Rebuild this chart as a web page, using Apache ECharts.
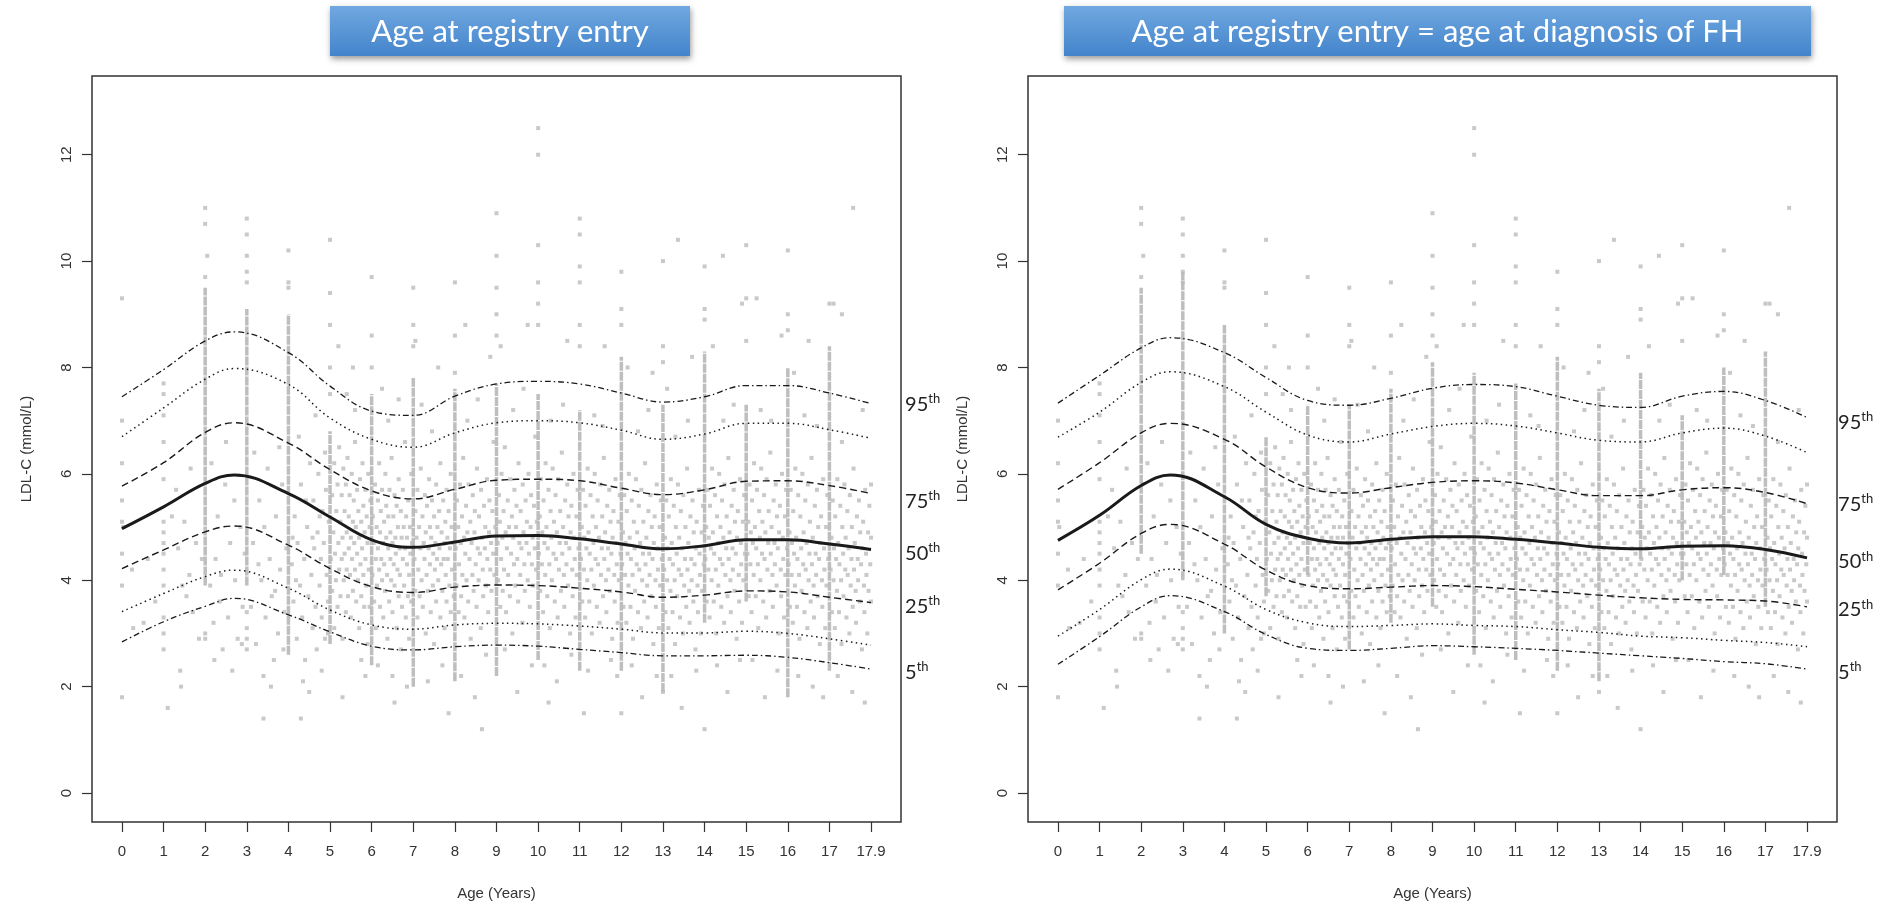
<!DOCTYPE html>
<html>
<head>
<meta charset="utf-8">
<title>LDL-C percentiles by age</title>
<script src="https://cdn.jsdelivr.net/npm/echarts@6.0.0/dist/echarts.min.js"></script>
<style>
  html, body { margin: 0; padding: 0; background: #fff; }
  #main { width: 1893px; height: 910px; }
</style>
</head>
<body>
<div id="main"></div>
<script>
// ages of the percentile curves (2.7 is the peak), 18 sits under the "17.9" tick
const ages = [0, 1, 2, 2.7, 4, 5, 6, 7, 8, 9, 10, 11, 12, 13, 14, 15, 16, 17, 18];
const xTicks = [0, 1, 2, 3, 4, 5, 6, 7, 8, 9, 10, 11, 12, 13, 14, 15, 16, 17, 18];
const xTickLabels = ['0', '1', '2', '3', '4', '5', '6', '7', '8', '9', '10', '11', '12', '13', '14', '15', '16', '17', '17.9'];
const yTicks = [0, 2, 4, 6, 8, 10, 12];

const leftTitle = 'Age at registry entry';
const rightTitle = 'Age at registry entry = age at diagnosis of FH';

// left panel percentiles (age at registry entry)
const leftP95 = [7.45, 7.96, 8.50, 8.67, 8.28, 7.65, 7.18, 7.10, 7.46, 7.69, 7.74, 7.69, 7.52, 7.35, 7.45, 7.66, 7.66, 7.52, 7.32];
const leftP90 = [6.70, 7.24, 7.78, 7.98, 7.68, 7.05, 6.65, 6.50, 6.77, 6.96, 7.00, 6.96, 6.82, 6.65, 6.75, 6.95, 6.95, 6.83, 6.67];
const leftP75 = [5.77, 6.21, 6.78, 6.96, 6.58, 6.08, 5.68, 5.53, 5.71, 5.88, 5.90, 5.87, 5.73, 5.61, 5.70, 5.86, 5.87, 5.78, 5.63];
const leftP50 = [4.97, 5.38, 5.82, 5.98, 5.63, 5.19, 4.76, 4.62, 4.72, 4.83, 4.84, 4.78, 4.68, 4.59, 4.65, 4.76, 4.76, 4.68, 4.58];
const leftP25 = [4.22, 4.57, 4.91, 5.02, 4.66, 4.22, 3.88, 3.77, 3.87, 3.91, 3.90, 3.85, 3.78, 3.68, 3.72, 3.80, 3.78, 3.68, 3.58];
const leftP10 = [3.41, 3.75, 4.07, 4.19, 3.85, 3.44, 3.16, 3.08, 3.16, 3.19, 3.18, 3.14, 3.08, 3.01, 3.01, 3.04, 3.00, 2.90, 2.78];
const leftP5 = [2.84, 3.22, 3.51, 3.66, 3.35, 3.03, 2.76, 2.69, 2.75, 2.78, 2.76, 2.70, 2.64, 2.58, 2.58, 2.59, 2.55, 2.45, 2.33];

// right panel percentiles (entry = diagnosis)
const rightP95 = [7.33, 7.85, 8.37, 8.56, 8.28, 7.81, 7.38, 7.29, 7.42, 7.61, 7.68, 7.64, 7.46, 7.29, 7.25, 7.46, 7.55, 7.38, 7.06];
const rightP90 = [6.69, 7.16, 7.72, 7.92, 7.64, 7.16, 6.73, 6.60, 6.75, 6.89, 6.95, 6.90, 6.77, 6.63, 6.60, 6.77, 6.86, 6.71, 6.40];
const rightP75 = [5.71, 6.21, 6.77, 6.95, 6.65, 6.13, 5.74, 5.64, 5.74, 5.84, 5.87, 5.83, 5.70, 5.59, 5.59, 5.70, 5.74, 5.65, 5.44];
const rightP50 = [4.75, 5.22, 5.78, 5.98, 5.57, 5.05, 4.79, 4.70, 4.77, 4.82, 4.82, 4.77, 4.70, 4.62, 4.59, 4.64, 4.65, 4.58, 4.42];
const rightP25 = [3.82, 4.32, 4.88, 5.05, 4.68, 4.19, 3.90, 3.84, 3.87, 3.90, 3.88, 3.83, 3.78, 3.72, 3.67, 3.64, 3.63, 3.61, 3.50];
const rightP10 = [2.95, 3.45, 4.01, 4.21, 3.89, 3.45, 3.20, 3.13, 3.15, 3.18, 3.15, 3.13, 3.07, 3.02, 2.95, 2.92, 2.87, 2.83, 2.75];
const rightP5 = [2.42, 2.94, 3.50, 3.71, 3.41, 2.98, 2.72, 2.68, 2.72, 2.77, 2.75, 2.72, 2.68, 2.63, 2.58, 2.53, 2.47, 2.43, 2.33];

// dense columns of measurements at whole years (low / high end of the solid part)
const streakAges = [2, 3, 4, 5, 6, 7, 8, 9, 10, 11, 12, 13, 14, 15, 16, 17];
const leftStreakLo = [3.9, 3.9, 2.6, 2.8, 2.4, 2.0, 2.1, 2.2, 2.5, 2.3, 2.3, 1.9, 3.2, 3.6, 1.8, 2.3];
const leftStreakHi = [9.5, 9.1, 9.0, 6.8, 7.5, 7.8, 7.6, 7.7, 7.5, 7.2, 8.2, 7.3, 8.3, 7.3, 8.0, 8.4];
const rightStreakLo = [4.5, 4.0, 3.0, 3.7, 4.1, 2.7, 3.2, 3.5, 2.6, 2.5, 2.3, 2.1, 4.4, 4.0, 4.1, 3.5];
const rightStreakHi = [9.5, 9.8, 8.8, 6.7, 7.3, 7.3, 7.6, 8.1, 7.9, 7.7, 8.2, 7.6, 7.9, 7.1, 8.0, 8.3];

// scattered measurements, one row per year: pairs of (hundredths of a year, LDL-C in tenths)
const cloudByYear = [
  [0,70, 0,62, 0,55, 0,51, 0,45, 0,39, 0,18, 3,50, 24,42, 27,31, 52,32, 62,44, 80,36],
  [0,77, 0,75, 0,71, 0,66, 0,59, 0,51, 0,49, 0,47, 0,45, 0,42, 0,39, 0,33, 0,30, 0,27, 10,16, 40,23, 42,20, 20,52, 35,46, 45,39, 55,37, 62,41, 70,34, 78,47, 85,29, 92,44, 30,57, 65,61, 50,51],
  [0,110, 0,107, 5,101, 0,97, 0,30, 0,29, 12,39, 20,32, 25,44, 30,52, 35,36, 42,27, 48,58, 55,33, 60,47, 65,23, 72,40, 78,29, 85,50, 90,35, 95,45, 15,62, 50,66, 70,55, 38,41, 88,28, 22,25],
  [0,108, 0,105, 0,101, 0,98, 0,96, 0,34, 0,31, 0,29, 0,27, 10,35, 15,47, 22,28, 30,55, 35,40, 40,22, 45,33, 50,61, 55,44, 60,37, 65,25, 70,52, 75,30, 80,42, 85,58, 90,34, 95,46, 18,64, 42,50, 58,20, 68,38, 88,27, 28,43, 78,65, 40,14],
  [0,102, 0,96, 0,95, 8,43, 12,36, 15,52, 20,29, 22,47, 28,39, 30,58, 33,33, 38,44, 40,25, 45,50, 48,37, 52,62, 55,41, 58,31, 60,55, 62,46, 65,35, 68,27, 70,49, 72,60, 75,39, 78,44, 80,33, 82,53, 85,47, 88,29, 90,57, 92,41, 95,36, 97,51, 25,67, 50,19, 35,21, 65,71, 80,23, 42,55, 18,40, 58,48, 88,64, 75,52, 95,30, 10,48, 30,14],
  [0,75, 0,80, 0,88, 0,94, 0,104, 2,44, 5,38, 5,56, 8,49, 10,31, 10,62, 12,45, 14,40, 15,53, 18,35, 18,58, 20,47, 22,42, 22,65, 25,51, 25,37, 28,44, 28,56, 30,29, 30,48, 32,61, 33,40, 35,53, 35,45, 38,34, 38,58, 40,49, 40,42, 42,63, 43,37, 45,52, 45,46, 47,56, 48,41, 50,48, 50,33, 52,60, 53,44, 55,51, 55,38, 57,55, 58,47, 60,42, 60,66, 62,50, 63,36, 65,57, 65,45, 67,40, 68,53, 70,48, 70,31, 72,59, 73,43, 75,51, 75,37, 77,46, 78,62, 80,54, 80,41, 82,35, 83,49, 85,57, 85,44, 87,39, 88,52, 90,47, 90,28, 92,60, 93,42, 95,50, 95,35, 97,55, 60,72, 40,75, 75,25, 85,22, 30,18, 55,80, 20,84],
  [0,97, 0,86, 0,80, 2,41, 3,52, 5,47, 6,36, 8,58, 10,44, 10,31, 12,50, 13,39, 15,55, 15,46, 18,42, 18,62, 20,35, 20,49, 22,53, 23,44, 25,40, 25,57, 28,47, 28,33, 30,51, 30,43, 32,38, 33,60, 35,48, 35,54, 37,41, 38,29, 40,46, 40,52, 42,36, 43,57, 45,44, 45,49, 47,40, 48,63, 50,47, 50,34, 52,52, 53,43, 55,39, 55,56, 57,48, 58,45, 60,31, 60,54, 62,42, 63,50, 65,37, 65,59, 67,46, 68,41, 70,53, 70,27, 72,48, 73,35, 75,44, 75,57, 77,50, 78,39, 80,46, 80,66, 82,33, 83,52, 85,43, 85,48, 87,37, 88,55, 90,41, 90,29, 92,50, 93,45, 95,36, 95,60, 97,47, 40,70, 65,74, 15,24, 50,22, 85,20, 25,76, 55,17],
  [0,95, 0,88, 0,84, 3,44, 5,38, 5,53, 8,48, 10,33, 10,57, 12,42, 14,50, 15,37, 17,46, 18,61, 20,40, 22,52, 23,35, 25,47, 27,44, 28,56, 30,30, 30,49, 32,41, 33,54, 35,38, 37,46, 38,59, 40,43, 40,50, 42,34, 43,48, 45,55, 47,39, 48,45, 50,52, 50,28, 52,42, 53,47, 55,36, 55,58, 57,44, 58,50, 60,40, 62,53, 63,46, 65,33, 65,62, 67,43, 68,49, 70,38, 72,55, 73,44, 75,47, 75,31, 77,51, 78,41, 80,36, 80,57, 82,48, 83,44, 85,53, 87,39, 88,46, 90,34, 90,60, 92,50, 93,42, 95,47, 97,37, 45,68, 20,73, 70,24, 35,21, 85,15, 60,80, 5,85],
  [0,96, 0,86, 0,79, 2,46, 4,39, 5,55, 8,50, 9,34, 10,43, 12,58, 14,47, 15,37, 17,52, 18,41, 20,63, 22,48, 23,33, 25,45, 27,54, 28,40, 30,49, 32,36, 33,58, 35,44, 37,51, 38,29, 40,47, 42,41, 43,56, 45,38, 47,49, 48,53, 50,43, 52,35, 53,61, 55,46, 57,40, 58,52, 60,45, 62,31, 63,57, 65,48, 67,42, 68,37, 70,54, 72,46, 73,50, 75,39, 77,59, 78,44, 80,34, 82,49, 83,55, 85,42, 87,47, 88,38, 90,53, 92,45, 93,66, 95,41, 97,50, 30,70, 55,74, 75,26, 15,22, 48,18, 85,82, 65,12, 25,88],
  [0,109, 0,101, 0,95, 0,90, 0,86, 3,47, 4,40, 6,56, 8,51, 9,35, 11,44, 12,60, 14,48, 15,38, 17,53, 18,42, 20,65, 22,49, 23,34, 25,46, 27,55, 28,41, 30,50, 32,37, 33,59, 35,45, 37,52, 38,30, 40,48, 42,43, 43,57, 45,39, 47,50, 48,54, 50,44, 52,36, 53,62, 55,47, 57,41, 58,53, 60,46, 62,32, 63,58, 65,49, 67,43, 68,38, 70,55, 72,47, 73,51, 75,40, 77,60, 78,45, 80,35, 82,50, 83,56, 85,43, 87,48, 88,39, 90,54, 92,46, 93,67, 95,42, 97,51, 40,72, 65,76, 20,27, 85,24, 50,19, 10,84, 75,88],
  [0,125, 0,120, 0,103, 0,96, 0,92, 0,88, 2,45, 4,52, 5,38, 7,59, 9,43, 10,49, 12,34, 13,55, 15,47, 17,41, 18,62, 20,50, 22,37, 23,46, 25,57, 27,43, 28,31, 30,53, 32,48, 33,40, 35,61, 37,45, 38,51, 40,36, 42,56, 43,44, 45,49, 47,33, 48,59, 50,42, 52,47, 53,53, 55,38, 57,64, 58,45, 60,50, 62,41, 63,35, 65,55, 67,47, 68,43, 70,58, 72,39, 73,52, 75,46, 77,30, 78,49, 80,54, 82,42, 83,37, 85,60, 87,48, 88,44, 90,33, 92,52, 93,41, 95,57, 97,46, 30,70, 60,73, 80,26, 15,24, 45,21, 70,85, 25,17],
  [0,108, 0,105, 0,99, 0,96, 0,88, 0,84, 3,44, 5,50, 6,36, 8,57, 10,42, 11,48, 13,33, 14,54, 16,46, 18,40, 19,61, 21,49, 23,36, 24,45, 26,56, 28,42, 29,30, 31,52, 33,47, 34,39, 36,60, 38,44, 39,50, 41,35, 43,55, 44,43, 46,48, 48,32, 49,58, 51,41, 53,46, 54,52, 56,37, 58,63, 59,44, 61,49, 63,40, 64,34, 66,54, 68,46, 69,42, 71,57, 73,38, 74,51, 76,45, 78,29, 79,48, 81,53, 83,41, 84,36, 86,59, 88,47, 89,43, 91,32, 93,51, 94,40, 96,56, 98,45, 35,71, 55,69, 75,25, 20,23, 90,22, 60,84, 10,15],
  [0,98, 0,91, 0,88, 0,15, 2,43, 4,49, 5,35, 7,56, 9,41, 10,47, 12,32, 13,53, 15,45, 17,39, 18,60, 20,48, 22,35, 23,44, 25,55, 27,41, 28,29, 30,51, 32,46, 33,38, 35,59, 37,43, 38,49, 40,34, 42,54, 43,42, 45,47, 47,31, 48,57, 50,40, 52,45, 53,51, 55,36, 57,62, 58,43, 60,48, 62,39, 63,33, 65,53, 67,45, 68,41, 70,56, 72,37, 73,50, 75,44, 77,28, 78,47, 80,52, 82,40, 83,35, 85,58, 87,46, 88,42, 90,31, 92,50, 93,39, 95,55, 97,44, 40,68, 65,72, 25,24, 85,22, 50,18, 15,80, 75,79],
  [0,100, 0,84, 0,81, 0,19, 36,104, 3,42, 5,48, 6,34, 8,55, 10,40, 11,46, 13,31, 14,52, 16,44, 18,38, 19,59, 21,47, 23,34, 24,43, 26,54, 28,40, 29,28, 31,50, 33,45, 34,37, 36,58, 38,42, 39,48, 41,33, 43,53, 44,41, 46,46, 48,30, 49,56, 51,39, 53,44, 54,50, 56,35, 58,61, 59,42, 61,47, 63,38, 64,32, 66,52, 68,44, 69,40, 71,55, 73,36, 74,49, 76,43, 78,27, 79,46, 81,51, 83,39, 84,34, 86,57, 88,45, 89,41, 91,30, 93,49, 94,38, 96,54, 98,43, 30,67, 60,70, 20,22, 80,23, 45,16, 70,82, 10,76],
  [0,99, 0,91, 0,89, 0,12, 44,101, 2,44, 4,50, 5,36, 7,57, 9,42, 10,48, 12,33, 13,54, 15,46, 17,40, 18,61, 20,49, 22,36, 23,45, 25,56, 27,42, 28,30, 30,52, 32,47, 33,39, 35,60, 37,44, 38,50, 40,35, 42,55, 43,43, 45,48, 47,32, 48,58, 50,41, 52,46, 53,52, 55,37, 57,63, 58,44, 60,49, 62,40, 63,34, 65,54, 67,46, 68,42, 70,57, 72,38, 73,51, 75,45, 77,29, 78,48, 80,53, 82,41, 83,36, 85,59, 87,47, 88,43, 90,32, 92,51, 93,40, 95,56, 97,45, 45,70, 70,73, 30,24, 85,25, 55,19, 20,84, 90,92],
  [0,103, 0,93, 0,85, 3,45, 5,51, 6,37, 8,58, 10,43, 11,49, 13,34, 14,55, 16,47, 18,41, 19,62, 21,50, 23,37, 24,46, 26,57, 28,43, 29,31, 31,53, 33,48, 34,40, 36,61, 38,45, 39,51, 41,36, 43,56, 44,44, 46,49, 48,33, 49,59, 51,42, 53,47, 54,53, 56,38, 58,64, 59,45, 61,50, 63,41, 64,35, 66,55, 68,47, 69,43, 71,58, 73,39, 74,52, 76,46, 78,30, 79,49, 81,54, 83,42, 84,37, 86,60, 88,48, 89,44, 91,33, 93,52, 94,41, 96,57, 98,46, 35,72, 60,70, 15,25, 75,23, 45,18, 85,86, 25,93],
  [0,102, 0,90, 0,87, 2,43, 4,49, 5,35, 7,57, 9,41, 10,47, 12,32, 13,53, 15,45, 17,39, 18,61, 20,48, 22,35, 23,44, 25,56, 27,41, 28,29, 30,52, 32,46, 33,38, 35,60, 37,43, 38,49, 40,34, 42,55, 43,42, 45,47, 47,31, 48,58, 50,40, 52,45, 53,51, 55,36, 57,63, 58,43, 60,48, 62,39, 63,33, 65,54, 67,45, 68,41, 70,57, 72,37, 73,50, 75,44, 77,28, 78,47, 80,52, 82,40, 83,35, 85,59, 87,46, 88,42, 90,31, 92,50, 93,39, 95,56, 97,44, 40,71, 70,69, 25,22, 60,20, 85,18, 50,85, 15,79],
  [0,92, 57,110, 10,92, 30,90, 3,42, 5,48, 6,34, 8,55, 10,40, 11,46, 13,31, 14,52, 16,44, 18,38, 19,59, 21,47, 23,34, 24,43, 26,54, 28,40, 29,28, 31,50, 33,45, 34,37, 36,58, 38,42, 39,48, 41,33, 43,53, 44,41, 46,46, 48,30, 49,56, 51,39, 53,44, 54,50, 56,35, 58,61, 59,42, 61,47, 63,38, 64,32, 66,52, 68,44, 69,40, 71,55, 73,36, 74,49, 76,43, 78,27, 79,46, 81,51, 83,39, 84,34, 86,57, 88,45, 89,41, 91,30, 93,49, 94,38, 96,54, 98,43, 100,48, 100,36, 100,58, 30,66, 80,72, 55,19, 85,17, 20,22]
];
// points seen only in the left panel
const leftOnly = [[0, 9.3]];
const rightOnly = [];

const axisFont = 'Liberation Sans, Arial, sans-serif';
const labelFont = 'Lato, Open Sans, sans-serif';

function cloudPoints(extra) {
  let pts = [];
  cloudByYear.forEach((row, year) => {
    for (let i = 0; i < row.length; i += 2) {
      pts.push([year + row[i] / 100, row[i + 1] / 10]);
    }
  });
  return pts.concat(extra);
}

function xAxisFor(idx) {
  return {
    type: 'value', gridIndex: idx, min: -0.72, max: 18.72,
    name: 'Age (Years)', nameLocation: 'middle', nameGap: 64,
    nameTextStyle: { fontFamily: axisFont, fontSize: 15, color: '#333' },
    axisLine: { show: false, onZero: false },
    axisTick: { show: true, inside: false, length: 10, customValues: xTicks, lineStyle: { color: '#333', width: 1.2 } },
    axisLabel: {
      customValues: xTicks, margin: 22, fontFamily: axisFont, fontSize: 15, color: '#333',
      formatter: v => xTickLabels[xTicks.indexOf(v)]
    },
    splitLine: { show: false }
  };
}

function yAxisFor(idx) {
  return {
    type: 'value', gridIndex: idx, min: -0.545, max: 13.48,
    name: 'LDL-C (mmol/L)', nameLocation: 'middle', nameGap: 58,
    nameTextStyle: { fontFamily: axisFont, fontSize: 15, color: '#333' },
    axisLine: { show: false, onZero: false },
    axisTick: { show: true, inside: false, length: 10, customValues: yTicks, lineStyle: { color: '#333', width: 1.2 } },
    axisLabel: { customValues: yTicks, rotate: 90, margin: 18, fontFamily: axisFont, fontSize: 15, color: '#333' },
    splitLine: { show: false }
  };
}

function streakSeries(idx, lo, hi) {
  return {
    type: 'custom', xAxisIndex: idx, yAxisIndex: idx, silent: true, z: 1,
    data: streakAges.map((a, i) => [a, lo[i], hi[i]]),
    renderItem: function (params, api) {
      const p0 = api.coord([api.value(0), api.value(1)]);
      const p1 = api.coord([api.value(0), api.value(2)]);
      return {
        type: 'line',
        shape: { x1: p0[0], y1: p0[1], x2: p1[0], y2: p1[1] },
        style: { stroke: '#bebebe', lineWidth: 3.5, lineDash: [9, 1] }
      };
    }
  };
}

function cloudSeries(idx, extra) {
  return {
    type: 'scatter', xAxisIndex: idx, yAxisIndex: idx, silent: true, z: 2,
    symbol: 'rect', symbolSize: 4,
    itemStyle: { color: '#bcbcbc' },
    data: cloudPoints(extra)
  };
}

function pctLine(idx, values, dash, width, label, dy, dist) {
  const s = {
    type: 'line', xAxisIndex: idx, yAxisIndex: idx, silent: true, z: 3,
    smooth: 0.4, showSymbol: false, symbol: 'none',
    lineStyle: { color: '#1a1a1a', width: width, type: dash },
    data: ages.map((a, i) => [a, values[i]])
  };
  if (label) {
    s.endLabel = {
      show: true, distance: dist, offset: [0, dy],
      formatter: '{n|' + label + '}{s|th}',
      rich: {
        n: { fontFamily: labelFont, fontSize: 20, color: '#222', lineHeight: 24 },
        s: { fontFamily: labelFont, fontSize: 13, color: '#222', verticalAlign: 'top', lineHeight: 24, padding: [0, 0, 8, 0] }
      }
    };
  }
  return s;
}

function panelSeries(idx, p, lo, hi, extra, dist, dys) {
  return [
    streakSeries(idx, lo, hi),
    cloudSeries(idx, extra),
    pctLine(idx, p[0], [6, 3, 1.5, 3], 1.3, '95', dys[0], dist),
    pctLine(idx, p[1], [1.5, 3.5], 1.5, null, 0, dist),
    pctLine(idx, p[2], [7, 4], 1.4, '75', dys[1], dist),
    pctLine(idx, p[3], 'solid', 3, '50', dys[2], dist),
    pctLine(idx, p[4], [7, 4], 1.4, '25', dys[3], dist),
    pctLine(idx, p[5], [1.5, 3.5], 1.5, null, 0, dist),
    pctLine(idx, p[6], [6, 3, 1.5, 3], 1.3, '5', dys[4], dist)
  ];
}

function titleBox(x, y, w, h, text) {
  return {
    type: 'group', x: x, y: y,
    children: [
      {
        type: 'rect', shape: { x: 0, y: 0, width: w, height: h },
        style: {
          fill: new echarts.graphic.LinearGradient(0, 0, 0, 1, [
            { offset: 0, color: '#70a8e0' },
            { offset: 1, color: '#4384cb' }
          ]),
          shadowBlur: 6, shadowOffsetY: 3, shadowOffsetX: 1, shadowColor: 'rgba(0,0,0,0.4)'
        }
      },
      {
        type: 'text', x: w / 2, y: h / 2 + 1,
        style: { text: text, fill: '#fff', font: '31px Lato, "Open Sans", sans-serif', align: 'center', verticalAlign: 'middle' }
      }
    ]
  };
}

let myChart = echarts.init(document.getElementById('main'));
let option = {
  animation: false,
  backgroundColor: '#fff',
  grid: [
    { left: 92, top: 76, width: 809, height: 746, show: true, borderColor: '#333', borderWidth: 1.5, backgroundColor: 'transparent' },
    { left: 1028, top: 76, width: 809, height: 746, show: true, borderColor: '#333', borderWidth: 1.5, backgroundColor: 'transparent' }
  ],
  xAxis: [xAxisFor(0), xAxisFor(1)],
  yAxis: [yAxisFor(0), yAxisFor(1)],
  graphic: [
    titleBox(330, 6, 360, 50, leftTitle),
    titleBox(1064, 6, 747, 50, rightTitle)
  ],
  series: [].concat(
    panelSeries(0, [leftP95, leftP90, leftP75, leftP50, leftP25, leftP10, leftP5],
      leftStreakLo, leftStreakHi, leftOnly, 34, [1, 8, 4, 4, 3]),
    panelSeries(1, [rightP95, rightP90, rightP75, rightP50, rightP25, rightP10, rightP5],
      rightStreakLo, rightStreakHi, rightOnly, 31, [5, 1, 4, 3, 3])
  )
};
myChart.setOption(option);
</script>
</body>
</html>
